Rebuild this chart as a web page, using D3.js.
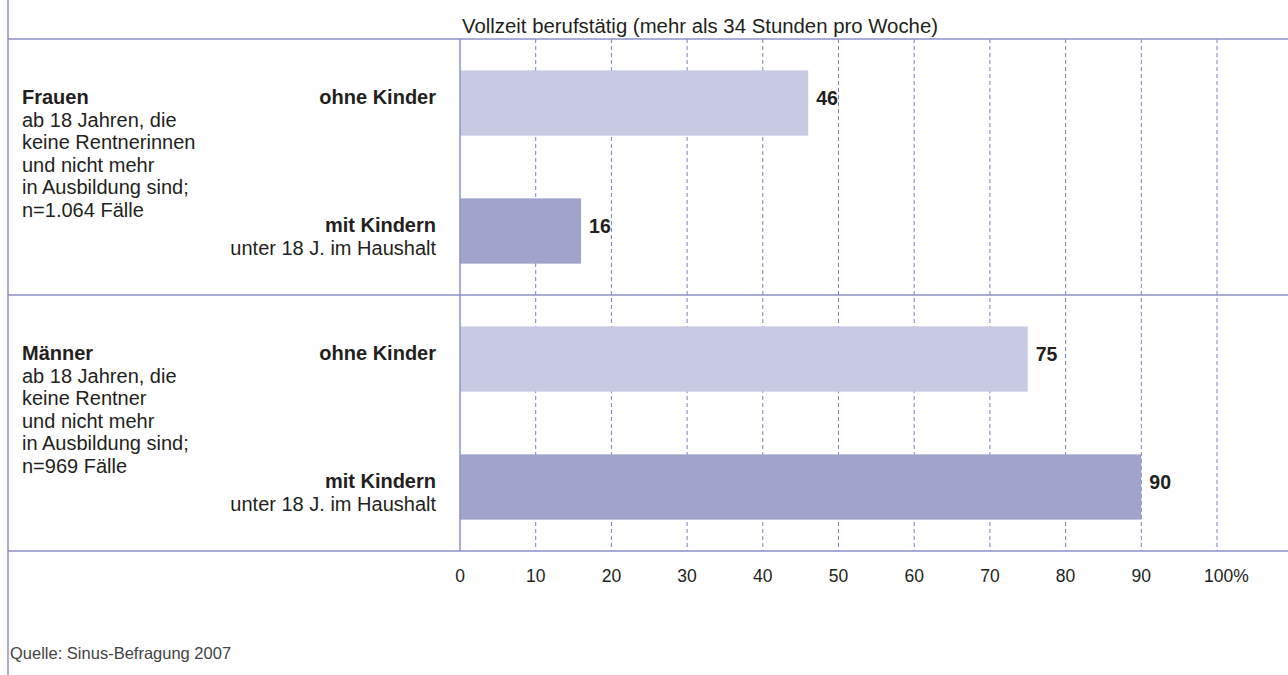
<!DOCTYPE html>
<html>
<head>
<meta charset="utf-8">
<script src="https://cdn.jsdelivr.net/npm/d3@7"></script>
<style>
	body { margin: 0; background: #fff; }
	svg { display: block; font-family: "Liberation Sans", Arial, sans-serif; }
</style>
</head>
<body>
<div id="chart"></div>
<script>

// data
const groups = ["Frauen", "Männer"];
const groupNotes = [
	["ab 18 Jahren, die", "keine Rentnerinnen", "und nicht mehr", "in Ausbildung sind;", "n=1.064 Fälle"],
	["ab 18 Jahren, die", "keine Rentner", "und nicht mehr", "in Ausbildung sind;", "n=969 Fälle"]
];
const rowKeys = ["Frauen-ohne", "Frauen-mit", "Männer-ohne", "Männer-mit"];
const rowGroup = ["Frauen", "Frauen", "Männer", "Männer"];
const rowLabels = ["ohne Kinder", "mit Kindern", "ohne Kinder", "mit Kindern"];
const rowSubLabels = ["", "unter 18 J. im Haushalt", "", "unter 18 J. im Haushalt"];
const rowKind = ["ohne", "mit", "ohne", "mit"];
const values = [46, 16, 75, 90];
const ticks = [0, 10, 20, 30, 40, 50, 60, 70, 80, 90, 100];
const title = "Vollzeit berufstätig (mehr als 34 Stunden pro Woche)";
const source = "Quelle: Sinus-Befragung 2007";

const width = 1288, height = 675;
const lineColor = "#8d92c8", gridColor = "#7a80c2";
const light = "#c8c9e3", dark = "#a0a3cb";
const textColor = "#231f20";
const fs = 20;

const svg = d3.select("#chart").append("svg")
	.attr("width", width)
	.attr("height", height);

const frameLeft = 8, frameTop = 39, frameBottom = 551;

const x = d3.scaleLinear()
	.domain([0, 100])
	.range([460, 1217]);

const y = d3.scaleBand()
	.domain(rowKeys)
	.range([frameTop, frameBottom])
	.paddingInner(0.49)
	.paddingOuter(0.245);

// grid lines
svg.append("g")
	.selectAll("line")
	.data(ticks.filter(t => t > 0))
	.join("line")
	.attr("x1", d => x(d)).attr("x2", d => x(d))
	.attr("y1", frameTop).attr("y2", frameBottom)
	.attr("stroke", gridColor)
	.attr("stroke-width", 1)
	.attr("stroke-dasharray", "4,3");

// bars
svg.append("g")
	.selectAll("rect")
	.data(values)
	.join("rect")
	.attr("x", x(0))
	.attr("y", (d, i) => y(rowKeys[i]))
	.attr("width", d => x(d) - x(0))
	.attr("height", y.bandwidth())
	.attr("fill", (d, i) => rowKind[i] == "mit" ? dark : light);

// value labels
svg.append("g")
	.selectAll("text")
	.data(values)
	.join("text")
	.attr("x", d => x(d) + 8)
	.attr("y", (d, i) => y(rowKeys[i]) + y.bandwidth() / 2 + 2)
	.attr("font-size", 19.5)
	.attr("font-weight", "bold")
	.attr("fill", textColor)
	.text(d => d);

// frame lines
const sep = (y(rowKeys[1]) + y.bandwidth() + y(rowKeys[2])) / 2;
const frame = svg.append("g").attr("stroke", lineColor).attr("stroke-width", 1.5);
frame.append("line").attr("x1", frameLeft).attr("x2", frameLeft).attr("y1", 0).attr("y2", height);
frame.append("line").attr("x1", frameLeft).attr("x2", width).attr("y1", frameTop).attr("y2", frameTop);
frame.append("line").attr("x1", frameLeft).attr("x2", width).attr("y1", sep).attr("y2", sep);
frame.append("line").attr("x1", frameLeft).attr("x2", width).attr("y1", frameBottom).attr("y2", frameBottom);
frame.append("line").attr("x1", x(0)).attr("x2", x(0)).attr("y1", frameTop).attr("y2", frameBottom);

// axis labels
svg.append("g")
	.selectAll("text")
	.data(ticks)
	.join("text")
	.attr("x", d => x(d))
	.attr("y", 582)
	.attr("text-anchor", d => d == 100 ? "start" : "middle")
	.attr("dx", d => d == 100 ? -13 : 0)
	.attr("font-size", 17.5)
	.attr("fill", textColor)
	.text(d => d == 100 ? "100%" : d);

// title
svg.append("text")
	.attr("x", 700)
	.attr("y", 33)
	.attr("text-anchor", "middle")
	.attr("font-size", 20)
	.attr("textLength", 476)
	.attr("lengthAdjust", "spacingAndGlyphs")
	.attr("fill", textColor)
	.text(title);

// row labels
const rl = svg.append("g")
	.attr("text-anchor", "end")
	.attr("fill", textColor);

rl.selectAll("text.main")
	.data(rowLabels)
	.join("text")
	.attr("class", "main")
	.attr("x", 436)
	.attr("y", (d, i) => y(rowKeys[i]) + y.bandwidth() / 2 + 1)
	.attr("font-size", fs)
	.attr("font-weight", "bold")
	.text(d => d);

rl.selectAll("text.sub")
	.data(rowSubLabels)
	.join("text")
	.attr("class", "sub")
	.attr("x", 436)
	.attr("y", (d, i) => y(rowKeys[i]) + y.bandwidth() / 2 + 23.5)
	.attr("font-size", fs)
	.text(d => d);

// group labels
groups.forEach((g, gi) => {
	const first = rowKeys[rowGroup.indexOf(g)];
	const baseY = y(first) + y.bandwidth() / 2 + 1;
	const t = svg.append("text")
		.attr("x", 22)
		.attr("y", baseY)
		.attr("font-size", fs)
		.attr("fill", textColor);
	t.append("tspan")
		.attr("x", 22)
		.attr("font-weight", "bold")
		.text(g);
	groupNotes[gi].forEach(line => {
		t.append("tspan")
			.attr("x", 22)
			.attr("dy", 22.6)
			.text(line);
	});
});

// source
svg.append("text")
	.attr("x", 10)
	.attr("y", 659)
	.attr("font-size", 16.5)
	.attr("fill", "#444")
	.text(source);
</script>
</body>
</html>
